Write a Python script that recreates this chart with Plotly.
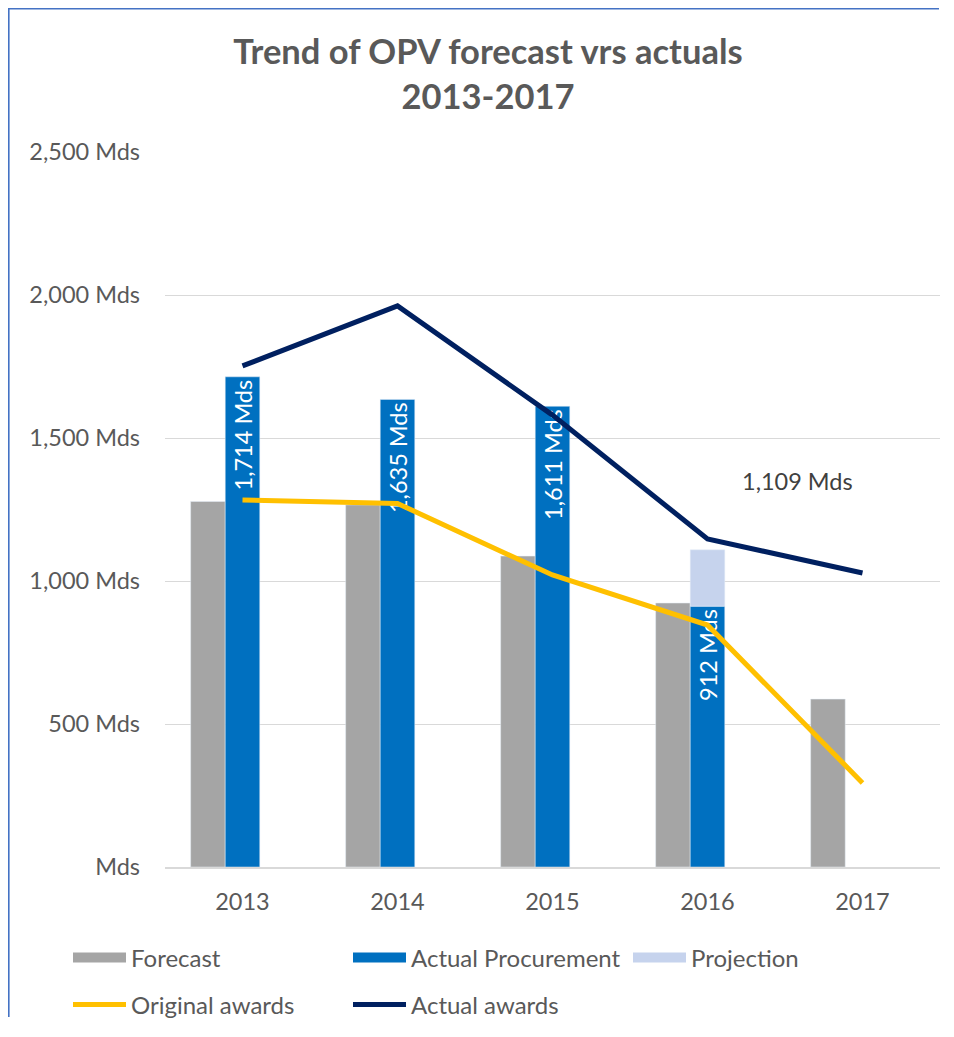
import plotly.graph_objects as go

years = ["2013", "2014", "2015", "2016", "2017"]
forecast = [1278, 1266, 1087, 923, 587]
actual_procurement = [1714, 1635, 1611, 912, None]
projection_year = ["2016"]
projection_base = [912]
projection_total = [1109]
original_awards = [1283, 1271, 1021, 846, 294]
actual_awards = [1752, 1962, 1580, 1147, 1028]
y_ticks = [0, 500, 1000, 1500, 2000, 2500]
y_tick_labels = ["Mds", "500 Mds", "1,000 Mds", "1,500 Mds", "2,000 Mds", "2,500 Mds"]

FONT = "Lato"
TXT = "#595959"
C_FORE = "#a5a5a5"
C_ACT = "#0070c0"
C_PROJ = "#c6d3ed"
C_ORIG = "#ffc000"
C_AWD = "#002060"

W, H = 934, 1010
L, R, T, B = 157, 2, 144, 151
PW, PH = W - L - R, H - T - B

BW = 0.223
OFF_F = -1.5 * BW
OFF_A = -0.5 * BW

fig = go.Figure()
fig.add_trace(go.Bar(x=years, y=forecast, name="Forecast", marker_color=C_FORE,
                     width=BW, offset=OFF_F, showlegend=False))
fig.add_trace(go.Bar(x=years, y=actual_procurement, name="Actual Procurement",
                     marker_color=C_ACT, width=BW, offset=OFF_A, showlegend=False,
                     text=[f"{v:,} Mds" if v is not None else "" for v in actual_procurement],
                     textposition="inside", insidetextanchor="end", textangle=-90,
                     textfont=dict(color="white", size=23.5, family=FONT)))
fig.add_trace(go.Bar(x=projection_year,
                     y=[t - b for t, b in zip(projection_total, projection_base)],
                     base=projection_base, name="Projection", marker_color=C_PROJ,
                     width=BW, offset=OFF_A, showlegend=False))
fig.add_trace(go.Scatter(x=years, y=original_awards, name="Original awards", mode="lines",
                         line=dict(color=C_ORIG, width=5), legend="legend2"))
fig.add_trace(go.Scatter(x=years, y=actual_awards, name="Actual awards", mode="lines",
                         line=dict(color=C_AWD, width=5), legend="legend2"))

for nm, col, lg in [("Forecast", C_FORE, "legend"), ("Actual Procurement", C_ACT, "legend"),
                    ("Projection", C_PROJ, "legend3")]:
    fig.add_trace(go.Scatter(x=[None], y=[None], name=nm, mode="lines",
                             line=dict(color=col, width=16), legend=lg))

fig.add_annotation(x=3.58, y=1350, xref="x", yref="y",
                   text=f"{projection_total[0]:,} Mds", showarrow=False,
                   font=dict(size=23.5, color="#404040", family=FONT))

# chart border: left and top edges as one open path
def px_x(px):
    return (px - L) / PW

def px_y(py):
    return (T + PH - py) / PH

border_path = (f"M {px_x(0.8):.5f},{px_y(H - 1):.5f} "
               f"L {px_x(0.8):.5f},{px_y(0.8):.5f} "
               f"L {px_x(W - 3):.5f},{px_y(0.8):.5f}")
fig.add_shape(type="path", xref="paper", yref="paper", path=border_path,
              line=dict(color="#4472c4", width=1.6), fillcolor="rgba(0,0,0,0)",
              layer="below")

leg_common = dict(orientation="h", xref="container", yref="container",
                  xanchor="left", yanchor="middle",
                  entrywidth=212, entrywidthmode="pixels", itemwidth=53,
                  font=dict(size=24, color=TXT, family=FONT), traceorder="normal",
                  bgcolor="rgba(0,0,0,0)")

fig.update_layout(
    width=W, height=H,
    margin=dict(l=L, r=R, t=T, b=B, autoexpand=False),
    paper_bgcolor="white", plot_bgcolor="white",
    font=dict(family=FONT, color=TXT, size=23.5),
    title=dict(text="<b>Trend of OPV forecast vrs actuals<br>2013-2017</b>",
               x=480 / W, xanchor="center", y=1 - 56 / H, yanchor="middle",
               font=dict(size=34.5, color=TXT, family=FONT)),
    barmode="overlay",
    legend=dict(x=60 / W, y=1 - 950 / H, **leg_common),
    legend3=dict(x=620 / W, y=1 - 950 / H, **leg_common),
    legend2=dict(x=60 / W, y=1 - 997 / H, **leg_common),
    showlegend=True,
)
fig.update_xaxes(type="category", showgrid=False, showline=True, linecolor="#d9d9d9",
                 linewidth=1.5, ticks="", ticklabelstandoff=13,
                 tickfont=dict(size=23.5, color=TXT, family=FONT))
fig.update_yaxes(range=[0, 2500], tickvals=y_ticks, ticktext=y_tick_labels,
                 showgrid=True, gridcolor="#d9d9d9", gridwidth=1.2, zeroline=False,
                 ticks="", ticklabelstandoff=24,
                 tickfont=dict(size=23.5, color=TXT, family=FONT))

fig.write_html("out.html")
